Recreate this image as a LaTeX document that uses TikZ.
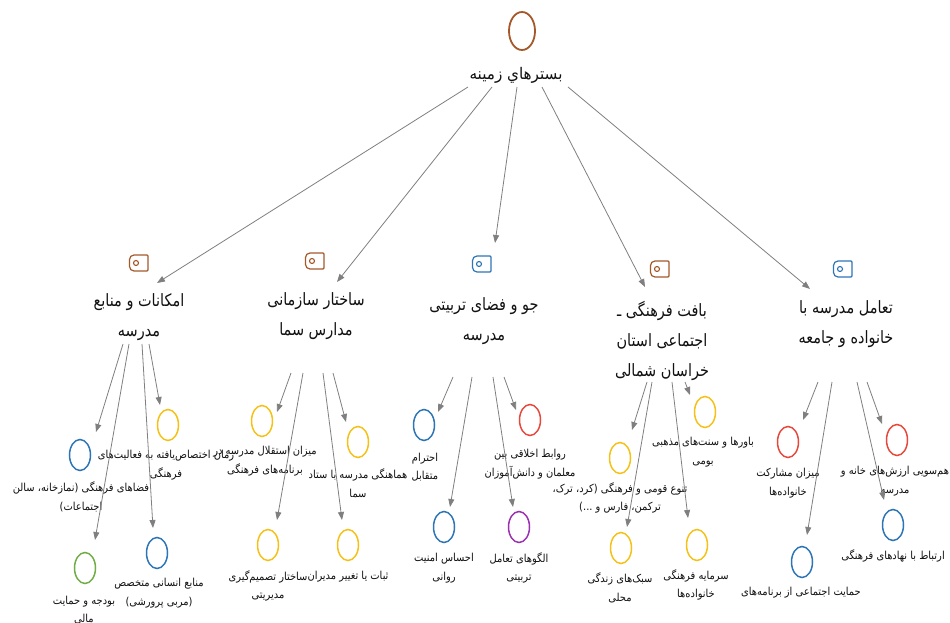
\documentclass[tikz,border=0pt]{standalone}
\usepackage{fontspec}
\usetikzlibrary{arrows.meta,shapes.geometric}
\TeXXeTstate=1
\newfontfamily\farsicat[Script=Arabic,FakeStretch=0.85]{DejaVu Sans}
\newfontfamily\farsileaf[Script=Arabic,FakeStretch=0.9]{DejaVu Sans}
\newfontfamily\farsiroot[Script=Arabic,FakeStretch=0.95]{DejaVu Sans}
\newcommand{\fa}[1]{\beginR #1\endR}

\definecolor{cbrown}{HTML}{A5582A}
\definecolor{cblue}{HTML}{2E75B6}
\definecolor{cyellow}{HTML}{F5C116}
\definecolor{cred}{HTML}{E8483B}
\definecolor{cgreen}{HTML}{70AD47}
\definecolor{cpurple}{HTML}{9B30B0}
\definecolor{cgray}{HTML}{7F7F7F}
\definecolor{ctext}{HTML}{111111}

\begin{document}
\begin{tikzpicture}[x=1pt,y=-1pt,
  leaf/.style={draw=#1, ellipse, line width=1.5pt, minimum width=21pt, minimum height=31pt, inner sep=0pt},
  rootnode/.style={draw=cbrown, ellipse, line width=1.8pt, minimum width=26pt, minimum height=38pt, inner sep=0pt},
  leaftext/.style={font=\farsileaf\fontsize{11}{18.5}\selectfont, text=ctext, align=center, inner sep=0pt},
  cattext/.style={font=\farsicat\fontsize{17}{30}\selectfont, text=ctext, align=center, inner sep=0pt},
  roottext/.style={font=\farsiroot\fontsize{16}{20}\selectfont, text=ctext, align=center, inner sep=0pt},
  arr/.style={draw=cgray, line width=0.8pt, -{Triangle[length=8pt,width=6pt]}},
  tagicon/.pic={
    \draw[#1, line width=1.2pt, rounded corners=1pt]
      (9,-8) -- (-4,-8) [rounded corners=4.5pt] -- (-9.5,-8) -- (-9.5,8) [rounded corners=1pt] -- (9,8) -- cycle;
    \draw[#1, line width=1.1pt] (-3,0) circle (2.5);
  }
]
\useasboundingbox (0,0) rectangle (950,623);

% root
\node[rootnode] (root) at (522,31) {};
\node[roottext] (rl) at (516,75) {\fa{بسترهاي زمينه}};

% category icons
\pic[local bounding box=i1] at (139,263) {tagicon=cbrown};
\pic[local bounding box=i2] at (315,261) {tagicon=cbrown};
\pic[local bounding box=i3] at (482,264) {tagicon=cblue};
\pic[local bounding box=i4] at (660,269) {tagicon=cbrown};
\pic[local bounding box=i5] at (843,269) {tagicon=cblue};

% category labels
\node[cattext] (c1) at (139,317) {\fa{امکانات و منابع}\\\fa{مدرسه}};
\node[cattext] (c2) at (316,316) {\fa{ساختار سازمانی}\\\fa{مدارس سما}};
\node[cattext] (c3) at (484,321) {\fa{جو و فضای تربیتی}\\\fa{مدرسه}};
\node[cattext] (c4) at (662,341) {\fa{بافت فرهنگی ـ}\\\fa{اجتماعی استان}\\\fa{خراسان شمالی}};
\node[cattext] (c5) at (846,324) {\fa{تعامل مدرسه با}\\\fa{خانواده و جامعه}};

% leaves: school facilities
\node[leaf=cblue]   (l1a) at (80,455) {};
\node[leaf=cgreen]  (l1b) at (85,568) {};
\node[leaf=cblue]   (l1c) at (157,553) {};
\node[leaf=cyellow] (l1d) at (168,425) {};
\node[leaftext] (t1a) at (81,497) {\fa{فضاهای فرهنگی (نمازخانه، سالن}\\\fa{اجتماعات)}};
\node[leaftext] (t1b) at (84,610) {\fa{بودجه و حمایت}\\\fa{مالی}};
\node[leaftext] (t1c) at (159,593) {\fa{منابع انسانی متخصص}\\\fa{(مربی پرورشی)}};
\node[leaftext] (t1d) at (166,465) {\fa{زمان اختصاص‌یافته به فعالیت‌های}\\\fa{فرهنگی}};

% leaves: organisational structure
\node[leaf=cyellow] (l2a) at (262,421) {};
\node[leaf=cyellow] (l2b) at (268,545) {};
\node[leaf=cyellow] (l2c) at (348,545) {};
\node[leaf=cyellow] (l2d) at (358,442) {};
\node[leaftext] (t2a) at (265,461) {\fa{میزان استقلال مدرسه در}\\\fa{برنامه‌های فرهنگی}};
\node[leaftext] (t2b) at (268,586) {\fa{ساختار تصمیم‌گیری}\\\fa{مدیریتی}};
\node[leaftext] (t2c) at (348,577) {\fa{ثبات یا تغییر مدیران}};
\node[leaftext] (t2d) at (358,483) {\fa{هماهنگی مدرسه با ستاد}\\\fa{سما}};

% leaves: educational climate
\node[leaf=cblue]   (l3a) at (424,425) {};
\node[leaf=cblue]   (l3b) at (444,527) {};
\node[leaf=cpurple] (l3c) at (519,527) {};
\node[leaf=cred]    (l3d) at (530,420) {};
\node[leaftext] (t3a) at (425,467) {\fa{احترام}\\\fa{متقابل}};
\node[leaftext] (t3b) at (444,568) {\fa{احساس امنیت}\\\fa{روانی}};
\node[leaftext] (t3c) at (519,568) {\fa{الگوهای تعامل}\\\fa{تربیتی}};
\node[leaftext] (t3d) at (530,464) {\fa{روابط اخلاقی بین}\\\fa{معلمان و دانش‌آموزان}};

% leaves: socio-cultural context
\node[leaf=cyellow] (l4a) at (620,458) {};
\node[leaf=cyellow] (l4b) at (621,548) {};
\node[leaf=cyellow] (l4c) at (697,545) {};
\node[leaf=cyellow] (l4d) at (705,412) {};
\node[leaftext] (t4a) at (620,498) {\fa{تنوع قومی و فرهنگی (کرد، ترک،}\\\fa{ترکمن، فارس و ...)}};
\node[leaftext] (t4b) at (620,588) {\fa{سبک‌های زندگی}\\\fa{محلی}};
\node[leaftext] (t4c) at (696,585) {\fa{سرمایه فرهنگی}\\\fa{خانواده‌ها}};
\node[leaftext] (t4d) at (703,452) {\fa{باورها و سنت‌های مذهبی}\\\fa{بومی}};

% leaves: school, family and community
\node[leaf=cred]  (l5a) at (788,442) {};
\node[leaf=cblue] (l5b) at (802,562) {};
\node[leaf=cblue] (l5c) at (893,525) {};
\node[leaf=cred]  (l5d) at (897,440) {};
\node[leaftext] (t5a) at (788,483) {\fa{میزان مشارکت}\\\fa{خانواده‌ها}};
\node[leaftext] (t5b) at (801,593) {\fa{حمایت اجتماعی از برنامه‌های}};
\node[leaftext] (t5c) at (893,556) {\fa{ارتباط با نهادهای فرهنگی}};
\node[leaftext] (t5d) at (895,481) {\fa{هم‌سویی ارزش‌های خانه و}\\\fa{مدرسه}};

% root to categories
\draw[arr] ([shift={(-48,12)}]rl.center) -- ([shift={(18,-34)}]c1.center);
\draw[arr] ([shift={(-24,12)}]rl.center) -- ([shift={(21,-34)}]c2.center);
\draw[arr] ([shift={(1,12)}]rl.center)   -- ([shift={(11,-78)}]c3.center);
\draw[arr] ([shift={(26,12)}]rl.center)  -- ([shift={(-17,-54)}]c4.center);
\draw[arr] ([shift={(52,12)}]rl.center)  -- ([shift={(-36,-35)}]c5.center);

% category 1
\draw[arr] ([shift={(-16,27)}]c1.center) -- ([shift={(16,-23)}]l1a.center);
\draw[arr] ([shift={(-10,27)}]c1.center) -- ([shift={(10,-28)}]l1b.center);
\draw[arr] ([shift={(3,27)}]c1.center)   -- ([shift={(-4,-25)}]l1c.center);
\draw[arr] ([shift={(10,27)}]c1.center)  -- ([shift={(-8,-20)}]l1d.center);

% category 2
\draw[arr] ([shift={(-25,57)}]c2.center) -- ([shift={(15,-9)}]l2a.center);
\draw[arr] ([shift={(-13,57)}]c2.center) -- ([shift={(9,-25)}]l2b.center);
\draw[arr] ([shift={(7,57)}]c2.center)   -- ([shift={(-6,-25)}]l2c.center);
\draw[arr] ([shift={(17,57)}]c2.center)  -- ([shift={(-12,-20)}]l2d.center);

% category 3
\draw[arr] ([shift={(-31,56)}]c3.center) -- ([shift={(14,-13)}]l3a.center);
\draw[arr] ([shift={(-12,56)}]c3.center) -- ([shift={(6,-20)}]l3b.center);
\draw[arr] ([shift={(9,56)}]c3.center)   -- ([shift={(-6,-20)}]l3c.center);
\draw[arr] ([shift={(20,56)}]c3.center)  -- ([shift={(-14,-10)}]l3d.center);

% category 4
\draw[arr] ([shift={(-15,41)}]c4.center) -- ([shift={(12,-28)}]l4a.center);
\draw[arr] ([shift={(-10,41)}]c4.center) -- ([shift={(6,-21)}]l4b.center);
\draw[arr] ([shift={(10,41)}]c4.center)  -- ([shift={(-9,-27)}]l4c.center);
\draw[arr] ([shift={(23,41)}]c4.center)  -- ([shift={(-15,-17)}]l4d.center);

% category 5
\draw[arr] ([shift={(-28,58)}]c5.center) -- ([shift={(15,-22)}]l5a.center);
\draw[arr] ([shift={(-14,58)}]c5.center) -- ([shift={(5,-27)}]l5b.center);
\draw[arr] ([shift={(11,58)}]c5.center)  -- ([shift={(-9,-25)}]l5c.center);
\draw[arr] ([shift={(21,58)}]c5.center)  -- ([shift={(-15,-16)}]l5d.center);
\end{tikzpicture}
\end{document}
